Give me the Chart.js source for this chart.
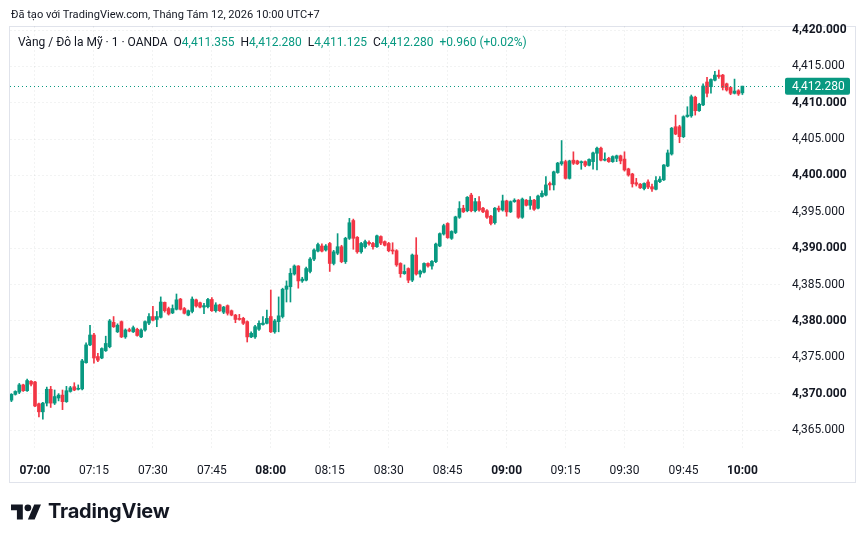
<!DOCTYPE html>
<html>
<head>
<meta charset="utf-8">
<script src="https://cdn.jsdelivr.net/npm/chart.js@4.4.1/dist/chart.umd.min.js"></script>
<style>
  html,body{margin:0;padding:0;background:#fff;}
  #wrap{position:relative;width:866px;height:543px;overflow:hidden;font-family:Roboto,"Noto Sans",sans-serif;color:#131722;}
  canvas{position:absolute;left:0;top:0;}
  #h1{position:absolute;left:11px;top:8px;font-size:11.1px;white-space:nowrap;}
  #h2{position:absolute;left:18px;top:35px;font-size:12px;white-space:nowrap;}
  #h2 .g{color:#089981;}
  #logo{position:absolute;left:11px;top:501px;}
  #logotext{position:absolute;left:48px;top:499px;font-family:Inter,Roboto,sans-serif;font-weight:700;font-size:20px;color:#131722;letter-spacing:-0.2px;}
</style>
</head>
<body>
<div id="wrap">
  <canvas id="c" width="866" height="543"></canvas>
  <div id="h1">Đã tạo với TradingView.com, Tháng Tám 12, 2026 10:00 UTC+7</div>
  <div id="h2">Vàng / Đô la Mỹ · 1 · OANDA&nbsp;&nbsp;O<span class="g">4,411.355</span>&nbsp;&nbsp;H<span class="g">4,412.280</span>&nbsp;&nbsp;L<span class="g">4,411.125</span>&nbsp;&nbsp;C<span class="g">4,412.280</span>&nbsp;&nbsp;<span class="g">+0.960 (+0.02%)</span></div>
  <svg id="logo" width="30.4" height="23.7" viewBox="0 0 36 28"><path fill="#131722" d="M14 22H7V11H0V4h14v18zM28 22h-8l7.5-18h8L28 22z"/><circle fill="#131722" cx="20" cy="8" r="4"/></svg>
  <div id="logotext">TradingView</div>
</div>
<script>
// ---- data (1-minute candles, 06:54 .. 10:00) ----
const startTime = "06:54";
const opens = [4369.1,4369.9,4370.2,4371.2,4370.4,4371.7,4371.6,4368.6,4367.5,4368.7,4370.6,4368.7,4369.4,4369.8,4368.9,4370.3,4370.95,4370.6,4370.65,4374.25,
4376.7,4378.06,4375.1,4374.9,4375.9,4376.45,4379.8,4378.5,4379.9,4377.8,4378.8,4378.5,4378.85,4377.8,4378.75,4379.7,4380.6,4380.2,4380.5,4382.55,
4381.7,4381.1,4381.6,4383.0,4381.7,4380.8,4381.3,4382.9,4382.5,4381.9,4381.95,4382.95,4381.4,4382.2,4381.2,4382.1,4381.4,4380.8,4380.35,4380.35,
4379.9,4377.8,4377.8,4378.85,4379.5,4379.67,4380.6,4378.5,4379.9,4380.6,4384.35,4384.7,4386.45,4387.55,4385.5,4385.6,4386.8,4388.5,4389.6,4390.3,
4389.75,4390.65,4387.9,4389.3,4390.2,4388.15,4391.36,4393.8,4391.5,4389.5,4390.2,4390.8,4390.65,4390.2,4391.6,4390.9,4390.65,4389.75,4389.65,4387.9,
4386.5,4387.2,4385.6,4389.06,4386.45,4386.7,4387.9,4387.55,4388.15,4390.3,4391.95,4393.4,4391.35,4392.15,4394.25,4395.5,4395.15,4397.3,4395.15,4396.4,
4395.5,4395.15,4394.4,4393.5,4395.5,4395.25,4396.5,4395.0,4396.4,4396.6,4394.25,4396.6,4395.9,4396.6,4395.5,4397.1,4397.3,4398.9,4398.7,4400.4,
4401.6,4401.9,4399.6,4402.1,4402.0,4401.75,4401.9,4401.4,4401.9,4403.05,4403.75,4402.1,4402.35,4401.9,4402.35,4402.7,4402.25,4400.9,4400.2,4399.0,
4398.8,4398.2,4399.1,4398.45,4398.1,4399.15,4399.4,4401.3,4402.95,4406.7,4406.7,4405.33,4408.1,4408.2,4410.75,4408.9,4409.7,4412.85,4412.2,4413.1,
4413.8,4413.8,4412.6,4412.1,4411.3,4411.65,4411.355];
const highs = [4370.0,4370.4,4371.4,4371.3,4372.0,4371.8,4371.7,4368.7,4368.8,4370.9,4371.0,4370.5,4370.0,4370.5,4371.0,4371.0,4371.5,4371.2,4374.7,4377.0,
4379.4,4378.3,4375.55,4376.3,4377.9,4380.2,4380.6,4379.6,4380.0,4378.9,4379.0,4379.3,4379.0,4378.9,4380.0,4381.0,4382.0,4381.3,4383.3,4382.6,
4381.9,4382.2,4383.7,4383.1,4381.85,4381.5,4383.3,4383.0,4382.6,4382.4,4383.1,4383.2,4382.5,4382.3,4382.0,4382.2,4381.5,4380.9,4380.9,4380.5,
4380.0,4378.5,4379.4,4380.0,4380.6,4381.5,4384.25,4380.2,4383.3,4384.5,4385.5,4387.2,4387.7,4387.6,4386.0,4387.4,4388.7,4389.9,4390.7,4390.6,
4390.5,4390.8,4389.7,4392.0,4390.4,4391.5,4394.1,4394.0,4391.6,4390.8,4391.1,4391.0,4390.8,4391.8,4391.7,4391.0,4390.8,4390.75,4389.8,4388.0,
4387.7,4387.3,4389.2,4391.45,4387.0,4388.0,4388.0,4388.3,4390.7,4392.1,4393.3,4393.5,4392.4,4394.4,4396.4,4395.9,4397.1,4397.55,4396.85,4397.1,
4395.6,4395.3,4394.5,4395.6,4395.8,4397.3,4396.6,4396.5,4396.8,4396.7,4396.9,4396.7,4397.1,4396.7,4397.3,4397.9,4399.85,4399.1,4400.6,4401.8,
4404.8,4402.1,4402.1,4403.25,4402.1,4402.0,4402.0,4402.3,4403.2,4403.9,4403.9,4403.1,4402.5,4402.7,4402.8,4402.8,4403.25,4401.0,4400.3,4399.6,
4398.9,4399.0,4399.4,4398.8,4399.85,4399.85,4401.5,4403.5,4406.6,4408.3,4406.9,4408.2,4409.45,4411.06,4410.9,4409.9,4412.6,4413.5,4413.3,4414.3,
4414.5,4413.9,4412.7,4412.2,4413.25,4411.8,4412.28];
const lows = [4368.9,4369.8,4370.0,4370.3,4370.3,4371.05,4368.2,4366.8,4366.5,4368.3,4368.1,4368.5,4369.0,4367.8,4368.8,4370.2,4370.4,4370.5,4370.5,4374.2,
4376.6,4374.2,4374.4,4374.8,4375.8,4376.3,4379.1,4378.4,4377.7,4377.6,4378.5,4378.4,4377.9,4377.7,4378.6,4379.5,4380.0,4379.2,4380.4,4381.2,
4380.8,4381.0,4381.5,4381.5,4380.95,4380.7,4381.1,4381.9,4381.8,4381.0,4381.8,4381.3,4381.2,4381.3,4381.0,4380.8,4380.7,4379.75,4380.1,4379.5,
4377.1,4377.7,4377.6,4378.7,4379.4,4379.6,4378.4,4378.3,4378.5,4380.4,4382.6,4382.6,4386.3,4384.5,4385.3,4385.5,4386.6,4388.3,4389.5,4389.5,
4389.6,4386.8,4387.7,4389.1,4388.0,4387.9,4391.2,4389.85,4389.3,4389.3,4390.0,4390.4,4389.85,4390.1,4390.5,4390.3,4389.5,4389.2,4387.5,4386.0,
4386.4,4385.25,4385.4,4386.3,4386.0,4386.6,4387.4,4387.1,4388.0,4390.2,4391.8,4391.35,4391.2,4392.0,4394.1,4394.9,4395.0,4395.0,4395.0,4395.1,
4394.9,4394.1,4393.2,4393.3,4395.0,4395.1,4394.4,4394.9,4396.3,4394.1,4394.1,4395.8,4395.35,4395.2,4395.4,4397.0,4397.2,4398.0,4398.0,4400.3,
4401.4,4399.5,4399.5,4401.5,4401.5,4400.85,4401.2,4401.3,4400.85,4400.75,4402.0,4402.0,4401.8,4401.8,4401.9,4401.6,4400.6,4399.9,4398.4,4398.55,
4398.2,4398.0,4398.2,4397.8,4398.0,4399.0,4399.3,4401.2,4402.8,4405.6,4404.5,4405.2,4408.0,4408.0,4408.3,4408.8,4409.6,4410.8,4411.3,4413.0,
4413.35,4411.75,4411.6,4411.1,4411.2,4411.0,4411.125];
const closes = [4369.9,4370.3,4371.2,4370.4,4371.8,4371.3,4368.3,4367.5,4368.7,4370.6,4368.7,4369.6,4369.8,4368.9,4370.4,4370.8,4370.5,4370.7,4374.5,4376.7,
4378.06,4374.9,4374.6,4376.2,4376.9,4380.0,4379.2,4379.4,4377.8,4378.75,4378.6,4379.07,4378.0,4378.75,4379.9,4380.6,4380.1,4380.6,4382.6,4381.4,
4380.95,4381.7,4382.9,4381.6,4381.05,4381.4,4383.0,4382.05,4381.9,4382.1,4382.95,4381.4,4382.2,4381.4,4381.9,4381.05,4380.8,4380.2,4380.2,4379.67,
4377.8,4378.3,4379.2,4379.67,4379.7,4380.35,4378.5,4380.0,4380.7,4384.35,4384.8,4386.55,4387.55,4385.5,4385.75,4387.2,4388.5,4389.75,4390.5,4389.6,
4390.3,4387.9,4389.5,4390.2,4388.15,4391.36,4393.5,4391.36,4389.5,4390.65,4390.9,4390.6,4390.2,4391.7,4390.7,4390.4,4389.65,4389.6,4387.7,4386.5,
4386.8,4385.6,4389.06,4386.45,4386.85,4387.9,4387.55,4388.2,4390.57,4392.0,4393.1,4391.45,4392.3,4394.3,4395.45,4395.0,4397.0,4395.15,4396.4,4395.25,
4395.0,4394.25,4393.4,4395.5,4395.25,4396.5,4395.0,4396.4,4396.6,4394.25,4396.75,4395.9,4396.6,4395.35,4397.175,4397.55,4398.7,4398.7,4400.5,4401.7,
4401.9,4399.6,4402.0,4401.67,4401.6,4401.9,4401.4,4402.2,4403.1,4403.75,4402.1,4402.2,4401.9,4402.6,4402.7,4402.0,4400.75,4400.06,4398.85,4398.8,
4398.3,4398.9,4398.4,4398.14,4399.3,4399.5,4401.44,4403.1,4406.5,4405.7,4405.33,4408.08,4408.3,4410.83,4408.9,4409.8,4412.3,4411.3,4413.2,4413.8,
4413.6,4412.1,4411.75,4411.3,4411.6,4411.2,4412.28];
const timeTickLabels = ["07:00","07:15","07:30","07:45","08:00","08:15","08:30","08:45","09:00","09:15","09:30","09:45","10:00"];
const priceTicks = [4365,4370,4375,4380,4385,4390,4395,4400,4405,4410,4415,4420];
const lastPrice = 4412.28;

// ---- helpers ----
const toMin = s => { const [h,m] = s.split(':').map(Number); return h*60+m; };
const fmtTime = v => String(Math.floor(v/60)).padStart(2,'0') + ':' + String(v%60).padStart(2,'0');
const fmtPrice = v => v.toLocaleString('en-US',{minimumFractionDigits:3,maximumFractionDigits:3});
const t0 = toMin(startTime);
const xs = closes.map((_, i) => t0 + i);
const UP = '#089981', DOWN = '#F23645';
const colors = closes.map((c, i) => c >= opens[i] ? UP : DOWN);
const FONT = 'Roboto, "Noto Sans", sans-serif';

const tvPlugin = {
  id: 'tv',
  beforeDraw(chart) {
    const c = chart.ctx;
    c.save();
    c.strokeStyle = '#e0e3eb';
    c.lineWidth = 1;
    c.strokeRect(9.5, 26.5, 846, 456);
    c.restore();
  },
  afterDatasetsDraw(chart) {
    const c = chart.ctx, a = chart.chartArea;
    const y = Math.round(chart.scales.y.getPixelForValue(lastPrice)) + 0.5;
    c.save();
    c.strokeStyle = UP;
    c.lineWidth = 1;
    c.setLineDash([1, 3]);
    c.beginPath(); c.moveTo(a.left, y); c.lineTo(785, y); c.stroke();
    c.restore();
  },
  afterDraw(chart) {
    const c = chart.ctx;
    const y = chart.scales.y.getPixelForValue(lastPrice);
    c.save();
    c.fillStyle = UP;
    c.beginPath();
    c.roundRect ? c.roundRect(785, y - 8.5, 65, 17, 2) : c.rect(785, y - 8.5, 65, 17);
    c.fill();
    c.fillStyle = '#ffffff';
    c.font = '12px ' + FONT;
    c.textBaseline = 'middle';
    c.textAlign = 'left';
    c.fillText(fmtPrice(lastPrice), 792, y + 0.5);
    c.restore();
  }
};

new Chart(document.getElementById('c'), {
  type: 'bar',
  data: {
    datasets: [
      {
        label: 'wick',
        data: xs.map((x, i) => ({ x, y: [lows[i], highs[i]] })),
        backgroundColor: colors,
        barThickness: 1,
        grouped: false,
        borderWidth: 0,
        order: 2
      },
      {
        label: 'body',
        data: xs.map((x, i) => ({ x, y: [opens[i], closes[i]] })),
        backgroundColor: colors,
        barThickness: 3,
        minBarLength: 1,
        grouped: false,
        borderWidth: 0,
        order: 1
      }
    ]
  },
  options: {
    responsive: false,
    animation: false,
    devicePixelRatio: 1,
    layout: { padding: { left: 10, top: 26, right: 11, bottom: 61 } },
    plugins: { legend: { display: false }, tooltip: { enabled: false } },
    scales: {
      x: {
        type: 'linear',
        offset: false,
        min: t0 - 0.36,
        max: t0 + 195.57,
        afterBuildTicks: s => { s.ticks = timeTickLabels.map(t => ({ value: toMin(t) })); },
        afterFit: s => { s.height = 32; },
        ticks: {
          autoSkip: false, maxRotation: 0, padding: 14, color: '#131722',
          callback: v => fmtTime(v),
          font: ctx => ({ family: FONT, size: 12, weight: (ctx.tick && ctx.tick.value % 60 === 0) ? 'bold' : 'normal' })
        },
        grid: { color: 'rgba(42,46,57,0.06)', drawTicks: false, offset: false },
        border: { display: false, dash: [2, 2] }
      },
      y: {
        position: 'right',
        min: 4362.25,
        max: 4420.55,
        afterBuildTicks: s => { s.ticks = priceTicks.map(v => ({ value: v })); },
        afterFit: s => { s.width = 75; },
        ticks: {
          padding: 12, color: '#131722',
          callback: v => fmtPrice(v),
          font: ctx => ({ family: FONT, size: 12, weight: (ctx.tick && ctx.tick.value % 10 === 0) ? 'bold' : 'normal' })
        },
        grid: { color: 'rgba(42,46,57,0.06)', drawTicks: false },
        border: { display: false, dash: [2, 2] }
      }
    }
  },
  plugins: [tvPlugin]
});
</script>
</body>
</html>
